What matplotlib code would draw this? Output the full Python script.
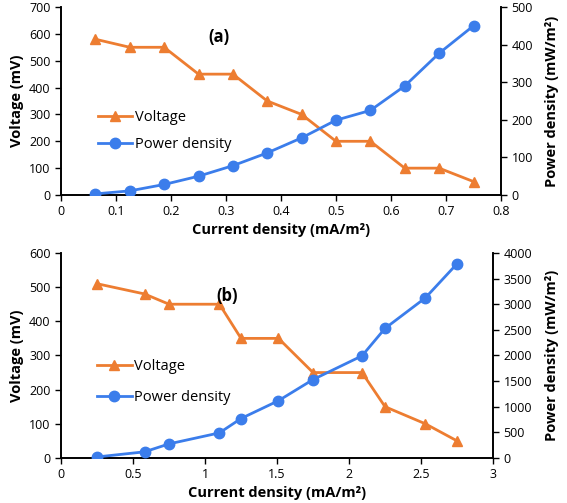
import matplotlib
matplotlib.use("Agg")
import matplotlib.pyplot as plt

plt.rcParams['font.family'] = ['Open Sans', 'DejaVu Sans']

# panel (a)
cur_a = [0.0625, 0.125, 0.1875, 0.25, 0.3125, 0.375, 0.4375, 0.5, 0.5625, 0.625, 0.6875, 0.75]
volt_a = [580, 550, 550, 450, 450, 350, 300, 200, 200, 100, 100, 50]
pow_a = [3, 11, 28, 50, 78, 112, 152, 199, 225, 290, 377, 450]

# panel (b)
cur_b = [0.25, 0.58, 0.75, 1.1, 1.25, 1.51, 1.75, 2.09, 2.25, 2.53, 2.75]
volt_b = [510, 480, 450, 450, 350, 350, 250, 250, 150, 100, 50]
pow_b = [20, 120, 275, 490, 770, 1118, 1530, 1993, 2529, 3124, 3790]

orange = '#ED7D31'
blue = '#3B7DEB'


def panel(ax, cur, volt, powr, xlim, xticks, vlim, vstep, plim, pstep, tag, tagpos, legpos, legsp, rlab_x):
    ax2 = ax.twinx()
    l1, = ax.plot(cur, volt, color=orange, marker='^', markersize=7.5, lw=2, label='Voltage', zorder=3)
    l2, = ax2.plot(cur, powr, color=blue, marker='o', markersize=7.5, lw=2, label='Power density', zorder=3)
    ax.set_xlim(*xlim)
    ax.set_xticks(xticks)
    ax.set_xticklabels([f'{t:g}' for t in xticks])
    ax.set_ylim(0, vlim)
    ax.set_yticks(range(0, vlim + 1, vstep))
    ax2.set_ylim(0, plim)
    ax2.set_yticks(range(0, plim + 1, pstep))
    for a in (ax, ax2):
        a.tick_params(labelsize=9, length=4, width=1, direction='out')
        for s in a.spines.values():
            s.set_linewidth(1.2)
        a.spines['top'].set_visible(False)
    ax.set_xlabel('Current density (mA/m²)', fontsize=10.5, fontweight='bold', labelpad=3)
    ax.set_ylabel('Voltage (mV)', fontsize=10.5, fontweight='bold', labelpad=4)
    ax2.set_ylabel('Power density (mW/m²)', fontsize=10.5, fontweight='bold')
    ax2.yaxis.set_label_coords(rlab_x, 0.5)
    ax.text(tagpos[0], tagpos[1], tag, transform=ax.transAxes, fontsize=12, fontweight='bold',
            ha='center', va='center')
    ax.legend([l1, l2], ['Voltage', 'Power density'], loc='upper left', bbox_to_anchor=legpos,
              frameon=False, fontsize=10.5, handlelength=2.35, labelspacing=legsp,
              borderpad=0, borderaxespad=0, handletextpad=0.2)


fig = plt.figure(figsize=(5.67, 5.03), dpi=100)
ax_a = fig.add_axes([0.1076, 0.6123, 0.776, 0.3738])
ax_b = fig.add_axes([0.1076, 0.0895, 0.762, 0.4076])

panel(ax_a, cur_a, volt_a, pow_a, (0, 0.8), [0, 0.1, 0.2, 0.3, 0.4, 0.5, 0.6, 0.7, 0.8],
      700, 100, 500, 100, '(a)', (0.36, 0.84), (0.084, 0.453), 0.85, 1.10)
panel(ax_b, cur_b, volt_b, pow_b, (0, 3), [0, 0.5, 1, 1.5, 2, 2.5, 3],
      600, 100, 4000, 500, '(b)', (0.384, 0.79), (0.084, 0.481), 1.05, 1.12)

fig.savefig('out.png', dpi=100)
